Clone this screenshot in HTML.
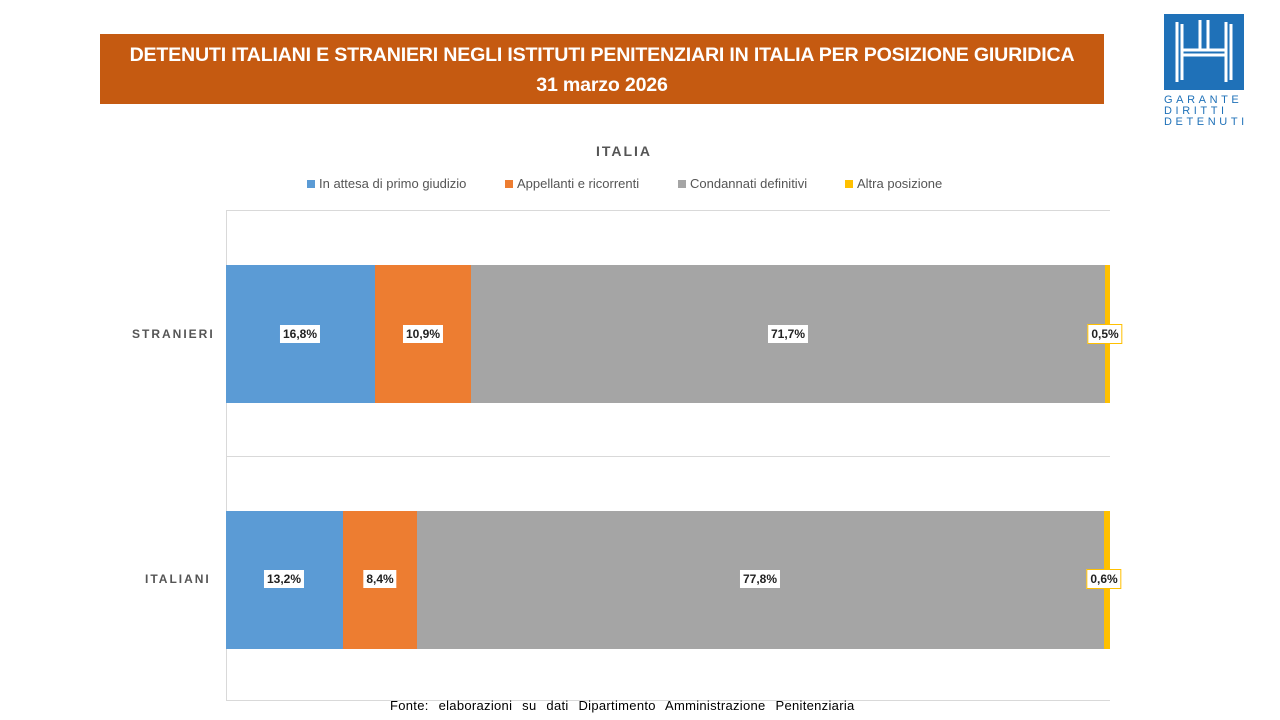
<!DOCTYPE html>
<html><head><meta charset="utf-8"><style>
body{margin:0;width:1280px;height:720px;background:#fff;position:relative;overflow:hidden;font-family:"Liberation Sans",sans-serif}
.a{position:absolute}
.title{left:100px;top:34px;width:1004px;height:70px;background:#C55A11;color:#fff;font-weight:bold;font-size:19.6px;text-align:center;line-height:30px;padding-top:6px;box-sizing:border-box;letter-spacing:-0.2px}
.bar{position:absolute;height:138px}
.lbl{position:absolute;background:#fff;font-size:12px;font-weight:bold;color:#222;padding:2px 3px;transform:translate(-50%,-50%);line-height:14px}
.leg{font-size:13px;color:#555;top:176px}
.sq{display:inline-block;width:8px;height:8px;margin-right:4px}
</style></head><body>
<div class="a title">DETENUTI ITALIANI E STRANIERI NEGLI ISTITUTI PENITENZIARI IN ITALIA PER POSIZIONE GIURIDICA<br>31 marzo 2026</div>
<svg class="a" style="left:1164px;top:14px" width="80" height="76"><rect width="80" height="76" fill="#1F71B8"/><path d="M13 8 V68 M18 10 V66 M62 8 V68 M67 10 V66 M36 6 V36 M44 6 V36 M18 36 H62 M18 41 H62" stroke="#fff" stroke-width="3" fill="none"/></svg>
<div class="a" style="left:1164px;top:95px;width:84px;font-size:11px;color:#1F71B8;letter-spacing:3.6px;line-height:11px">GARANTE<br>DIRITTI<br>DETENUTI</div>
<div class="a" style="left:0;width:1248px;top:143px;text-align:center;font-size:14px;font-weight:bold;color:#555;letter-spacing:2px">ITALIA</div>
<div class="a leg" style="left:307px"><span class="sq" style="background:#5B9BD5"></span>In attesa di primo giudizio</div>
<div class="a leg" style="left:505px"><span class="sq" style="background:#ED7D31"></span>Appellanti e ricorrenti</div>
<div class="a leg" style="left:678px"><span class="sq" style="background:#A5A5A5"></span>Condannati definitivi</div>
<div class="a leg" style="left:845px"><span class="sq" style="background:#FFC000"></span>Altra posizione</div>
<div class="a" style="left:226px;top:210px;width:884px;height:1px;background:#d9d9d9"></div>
<div class="a" style="left:226px;top:456px;width:884px;height:1px;background:#d9d9d9"></div>
<div class="a" style="left:226px;top:700px;width:884px;height:1px;background:#d9d9d9"></div>
<div class="a" style="left:226px;top:210px;width:1px;height:490px;background:#d9d9d9"></div>
<div class="bar" style="top:265px;left:226px;width:149px;background:#5B9BD5"></div>
<div class="bar" style="top:265px;left:375px;width:96px;background:#ED7D31"></div>
<div class="bar" style="top:265px;left:471px;width:634px;background:#A5A5A5"></div>
<div class="bar" style="top:265px;left:1105px;width:5px;background:#FFC000"></div>
<div class="bar" style="top:511px;left:226px;width:117px;background:#5B9BD5"></div>
<div class="bar" style="top:511px;left:343px;width:74px;background:#ED7D31"></div>
<div class="bar" style="top:511px;left:417px;width:687px;background:#A5A5A5"></div>
<div class="bar" style="top:511px;left:1104px;width:6px;background:#FFC000"></div>
<div class="lbl" style="left:300px;top:334px">16,8%</div>
<div class="lbl" style="left:423px;top:334px">10,9%</div>
<div class="lbl" style="left:788px;top:334px">71,7%</div>
<div class="lbl" style="left:1105px;top:334px;border:1px solid #FFC000">0,5%</div>
<div class="lbl" style="left:284px;top:579px">13,2%</div>
<div class="lbl" style="left:380px;top:579px">8,4%</div>
<div class="lbl" style="left:760px;top:579px">77,8%</div>
<div class="lbl" style="left:1104px;top:579px;border:1px solid #FFC000">0,6%</div>
<div class="a" style="left:132px;top:327px;font-size:12px;font-weight:bold;color:#555;letter-spacing:2px">STRANIERI</div>
<div class="a" style="left:145px;top:572px;font-size:12px;font-weight:bold;color:#555;letter-spacing:2px">ITALIANI</div>
<div class="a" style="left:390px;top:698px;font-size:13px;color:#000;word-spacing:6px;letter-spacing:0.3px">Fonte: elaborazioni su dati Dipartimento Amministrazione Penitenziaria</div>
</body></html>
